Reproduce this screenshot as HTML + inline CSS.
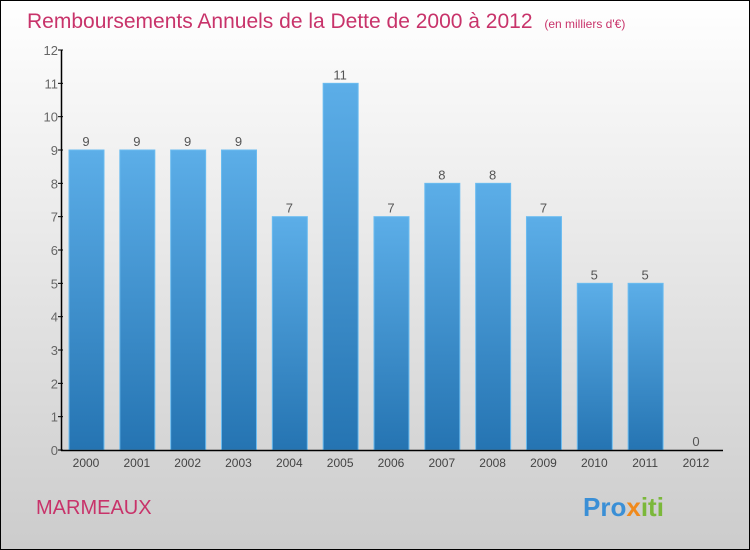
<!DOCTYPE html>
<html><head><meta charset="utf-8"><style>
body{margin:0}
#c{position:relative;width:748px;height:548px;border:1px solid #000;background:linear-gradient(#fff,#ccc);font-family:"Liberation Sans",sans-serif;overflow:hidden}
</style></head><body>
<div id="c">
<svg id="s" width="748" height="548">
<defs><linearGradient id="g" x1="0" y1="0" x2="0" y2="1"><stop offset="0" stop-color="#5caee8"/><stop offset="1" stop-color="#2574b2"/></linearGradient></defs>
<text x="26" y="27" font-size="21" fill="#c8336a">Remboursements Annuels de la Dette de 2000 à 2012 <tspan font-size="12" dx="6">(en milliers d'€)</tspan></text>
<text x="35" y="513" font-size="20" fill="#c8336a">MARMEAUX</text>
<text x="582" y="515" font-size="26" font-weight="bold" fill="#3a8fd6">Pro<tspan fill="#f08a1c">x</tspan><tspan fill="#7bb83a">iti</tspan></text>
<g id="plot"></g>
</svg>
</div>
<script>
const categories=["2000","2001","2002","2003","2004","2005","2006","2007","2008","2009","2010","2011","2012"];
const values=[9,9,9,9,7,11,7,8,8,7,5,5,0];
const yTicks=[0,1,2,3,4,5,6,7,8,9,10,11,12];
const NS="http://www.w3.org/2000/svg";
const p=document.getElementById('plot');
const y=v=>449-v*(400/12);
const x=i=>85+i*50.83;
function mk(t,a,txt){const e=document.createElementNS(NS,t);for(const k in a)e.setAttribute(k,a[k]);if(txt!==undefined)e.textContent=txt;p.appendChild(e);return e;}
values.forEach((v,i)=>{
 const r=mk('rect',{x:x(i)-17,y:y(v),width:35,height:449-y(v),fill:'url(#g)',stroke:'#6bbcf0','stroke-width':1});
 
 
 const t=mk('text',{x:x(i),y:y(v)-4,'font-size':13,fill:'#555','text-anchor':'middle'},String(values[i]));
 
 
 const c=mk('text',{x:x(i),y:466,'font-size':12,fill:'#444','text-anchor':'middle'},categories[i]);
 
 
});
yTicks.forEach(v=>{
 const l=mk('line',{x1:57,x2:62,y1:y(v),y2:y(v),stroke:'#000'});
 
 
 const t=mk('text',{x:57,y:y(v)+5,'font-size':13,fill:'#666','text-anchor':'end'},String(v));
 
 
});
const ya=mk('line',{x1:60.5,x2:60.5,y1:49,y2:450,stroke:'#000','stroke-width':1.5});


const xa=mk('line',{x1:60,x2:722,y1:449.5,y2:449.5,stroke:'#000','stroke-width':1.5});


</script>
</body></html>
